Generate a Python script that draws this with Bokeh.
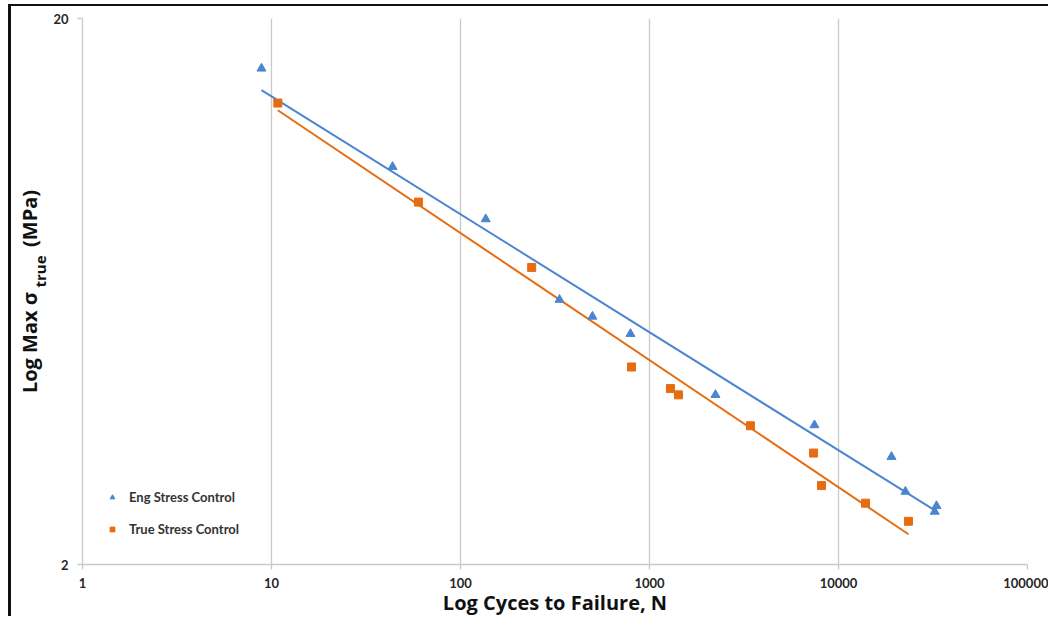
import numpy as np
from bokeh.plotting import figure
from bokeh.models import (FixedTicker, NumeralTickFormatter, Legend,
                          LegendItem, Range1d, LogAxis)
from bokeh.embed import file_html
from bokeh.resources import INLINE

# ---- data ----
eng_cycles = [8.85, 43.7, 136, 334, 499, 793, 2234, 7460, 19070, 22600, 33000, 32300]
eng_stress = [16.2, 10.7, 8.58, 6.11, 5.69, 5.29, 4.09, 3.60, 3.15, 2.72, 2.56, 2.50]
true_cycles = [10.8, 59.9, 238, 803, 1291, 1423, 3420, 7380, 8130, 13900, 23450]
true_stress = [14.0, 9.22, 7.00, 4.60, 4.20, 4.09, 3.59, 3.20, 2.79, 2.59, 2.40]
x_ticks = [1, 10, 100, 1000, 10000, 100000]
y_ticks = [2, 20]
series_names = ["Eng Stress Control", "True Stress Control"]
x_title = "Log Cyces to Failure, N"
y_title_main = "Log Max \u03c3\u2003\u2003 (MPa)"
y_title_sub = "\u2003\u2003\u2002\u2009true"

BLUE = "#4A86D0"
ORANGE = "#E66C12"
GRID = "#C9C9C9"
FONT = "Lato"
TITLE_FONT = "Open Sans"
TITLE_COLOR = "#111111"

# page offset of the canvas (margin + border drawn with CSS)
OX, OY = 11, 6


def power_fit(xs, ys):
    lx, ly = np.log10(xs), np.log10(ys)
    b, a = np.polyfit(lx, ly, 1)
    xr = np.array([min(xs), max(xs)])
    return xr, 10 ** (a + b * np.log10(xr))


W, H = 1040, 618 - OY
p = figure(width=W, height=H, x_axis_type="log", y_axis_type="log",
           x_range=Range1d(x_ticks[0], x_ticks[-1]),
           y_range=Range1d(y_ticks[0], y_ticks[-1]),
           output_backend="svg", toolbar_location=None,
           min_border_left=82 - OX, min_border_right=W - (1027 - OX),
           min_border_top=18 - OY, min_border_bottom=H - (564 - OY))
p.outline_line_color = None
p.background_fill_color = "white"
p.border_fill_color = "white"
p.styles = {"margin-left": "8px", "margin-top": "4px",
            "border-left": "3px solid #111111", "border-top": "2px solid #111111"}

# grid
p.xgrid.ticker = FixedTicker(ticks=x_ticks)
p.ygrid.ticker = FixedTicker(ticks=y_ticks)
p.xgrid.grid_line_color = GRID
p.ygrid.grid_line_color = GRID
p.xgrid.grid_line_width = 1.3
p.ygrid.grid_line_width = 1.3
p.xgrid.minor_grid_line_color = None
p.ygrid.minor_grid_line_color = None

# axes
p.xaxis.ticker = FixedTicker(ticks=x_ticks)
p.yaxis.ticker = FixedTicker(ticks=y_ticks)
p.xaxis.formatter = NumeralTickFormatter(format="0")
p.yaxis.formatter = NumeralTickFormatter(format="0")
for ax in (p.xaxis, p.yaxis):
    ax.axis_line_color = GRID
    ax.axis_line_width = 1.3
    ax.major_tick_line_color = GRID
    ax.major_tick_line_width = 1.3
    ax.major_tick_out = 5
    ax.major_tick_in = 0
    ax.minor_tick_line_color = None
    ax.major_label_text_font = FONT
    ax.major_label_text_font_style = "bold"
    ax.major_label_text_font_size = "13px"
    ax.major_label_text_color = "#262626"
    ax.axis_label_text_font = TITLE_FONT
    ax.axis_label_text_font_style = "bold"
    ax.axis_label_text_color = TITLE_COLOR
p.xaxis.major_label_standoff = 8
p.yaxis.major_label_standoff = 9

p.xaxis.axis_label = x_title
p.xaxis.axis_label_text_font_size = "20px"
p.xaxis.axis_label_standoff = -2

# subscript part of the y title sits on the inner axis
p.yaxis.axis_label = y_title_sub
p.yaxis.axis_label_text_font_size = "15px"
p.yaxis.axis_label_standoff = 0

# main part of the y title on an outer, tick-less axis
outer = LogAxis(ticker=FixedTicker(ticks=[]), axis_line_color=None,
                major_tick_line_color=None, minor_tick_line_color=None,
                major_tick_out=0, major_tick_in=0, minor_tick_out=0,
                minor_tick_in=0, axis_label=y_title_main,
                axis_label_standoff=-15, axis_label_text_font=TITLE_FONT,
                axis_label_text_font_style="bold",
                axis_label_text_font_size="20px",
                axis_label_text_color=TITLE_COLOR)
p.add_layout(outer, "left")

# trendlines
ex, ey = power_fit(eng_cycles, eng_stress)
tx, ty = power_fit(true_cycles, true_stress)
p.line(ex, ey, line_color=BLUE, line_width=2)
p.line(tx, ty, line_color=ORANGE, line_width=2)

# points
r_eng = p.scatter(eng_cycles, eng_stress, marker="triangle", size=9,
                  fill_color=BLUE, line_color=BLUE)
r_true = p.scatter(true_cycles, true_stress, marker="square", size=8,
                   fill_color=ORANGE, line_color=ORANGE)

legend = Legend(items=[LegendItem(label=series_names[0], renderers=[r_eng]),
                       LegendItem(label=series_names[1], renderers=[r_true])],
                location=(24, 27), orientation="vertical")
legend.background_fill_alpha = 0
legend.border_line_color = None
legend.padding = 0
legend.margin = 0
legend.spacing = 16
legend.glyph_width = 12
legend.glyph_height = 16
legend.label_height = 16
legend.label_standoff = 11
legend.label_text_font = FONT
legend.label_text_font_style = "bold"
legend.label_text_font_size = "13px"
legend.label_text_color = "#333333"
legend.label_text_baseline = "middle"
p.add_layout(legend)

open("out.html", "w").write(file_html(p, INLINE))
